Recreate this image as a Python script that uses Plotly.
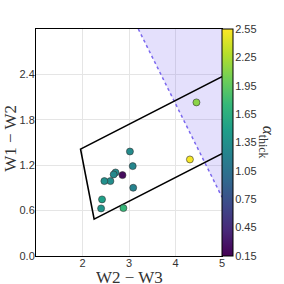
import plotly.graph_objects as go

w23 = [4.45, 4.31, 3.02, 3.08, 3.09, 2.86, 2.71, 2.67, 2.60, 2.47, 2.42, 2.40, 2.88]
w12 = [2.03, 1.276, 1.381, 1.188, 0.902, 1.069, 1.104, 1.078, 0.99, 0.99, 0.748, 0.629, 0.633]
alpha = [2.12, 2.52, 1.30, 1.25, 1.22, 0.22, 1.30, 1.28, 1.32, 1.35, 1.50, 1.40, 1.75]

wedge_x = [5.0, 1.958, 2.250, 5.0]
wedge_y = [2.371, 1.413, 0.487, 1.353]
cut_x = [3.2, 5.0, 5.0]
cut_y = [3.0, 3.0, 0.778]
cbar_ticks = [0.15, 0.45, 0.75, 1.05, 1.35, 1.65, 1.95, 2.25, 2.55]

serif = "Liberation Serif, Times New Roman, serif"

fig = go.Figure()
fig.add_trace(go.Scatter(x=cut_x, y=cut_y, mode="none", fill="toself",
                         fillcolor="rgba(120,100,240,0.2)", hoverinfo="skip", showlegend=False))
fig.add_trace(go.Scatter(x=cut_x[::2], y=cut_y[::2], mode="lines",
                         line=dict(color="#7b68ee", width=1.5, dash="dot"), showlegend=False))
fig.add_trace(go.Scatter(x=wedge_x, y=wedge_y, mode="lines",
                         line=dict(color="black", width=1.6), showlegend=False))
fig.add_trace(go.Scatter(
    x=w23, y=w12, mode="markers", showlegend=False,
    marker=dict(size=7, color=alpha, colorscale="Viridis", cmin=0.15, cmax=2.55,
                line=dict(color="#333333", width=0.6),
                colorbar=dict(tickvals=cbar_ticks, ticktext=[f"{v:.2f}" for v in cbar_ticks],
                              thickness=11, len=1, lenmode="fraction", y=0.5, yanchor="middle",
                              x=1.0, xanchor="left", xpad=0, ypad=0,
                              outlinewidth=1, outlinecolor="black", ticks="outside", ticklen=0,
                              tickfont=dict(family="Liberation Sans, Arial", size=11, color="#333")))))

fig.add_annotation(text="<i>α</i><sub>thick</sub>", xref="paper", yref="paper", x=1.0, y=0.503,
                   xshift=45, textangle=90, showarrow=False, xanchor="center", yanchor="middle",
                   font=dict(family=serif, size=17, color="#333"))
fig.add_annotation(text="W2 − W3", xref="paper", yref="paper", x=0.5, y=0, yshift=-20.5,
                   height=14, showarrow=False, xanchor="center", yanchor="middle",
                   font=dict(family=serif, size=17, color="#333"))
fig.add_annotation(text="W1 − W2", xref="paper", yref="paper", x=0, y=0.516, xshift=-25,
                   textangle=-90, showarrow=False, xanchor="center", yanchor="middle",
                   font=dict(family=serif, size=17, color="#333"))

fig.update_layout(
    width=284, height=284, margin=dict(l=35.5, r=62, t=28.7, b=28.3),
    plot_bgcolor="white", paper_bgcolor="white",
    font=dict(family="Liberation Sans, Arial", size=11, color="#333"),
    xaxis=dict(range=[1, 5], tickvals=[2, 3, 4, 5], showgrid=True, gridcolor="#e5e5e5",
               showline=True, linecolor="black", linewidth=1, mirror=True, zeroline=False,
               ticks="", tickfont=dict(size=11), automargin=False, ticklabelstandoff=-3),
    yaxis=dict(range=[0, 3], tickvals=[0, 0.6, 1.2, 1.8, 2.4], ticktext=["0.0", "0.6", "1.2", "1.8", "2.4"],
               showgrid=True, gridcolor="#e5e5e5",
               showline=True, linecolor="black", linewidth=1, mirror=True, zeroline=False,
               ticks="", tickfont=dict(size=11), automargin=False, ticklabelstandoff=-2),
)
fig.write_html("out.html", config={"displayModeBar": False},
               post_script="document.body.style.margin='0px';")
